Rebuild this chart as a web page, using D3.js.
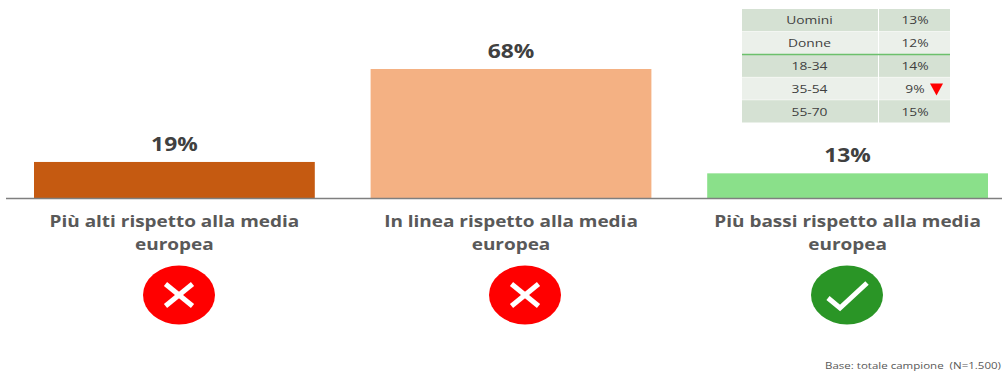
<!DOCTYPE html>
<html>
<head>
<meta charset="utf-8">
<script src="https://cdn.jsdelivr.net/npm/d3@7"></script>
<style>
html,body{margin:0;padding:0;background:#fff}
svg{display:block}
text{font-family:"Open Sans",sans-serif;white-space:pre}
</style>
</head>
<body>
<svg id="chart" width="1002" height="371"></svg>
<script>
// Survey answers
const categories = ["Più alti rispetto alla media", "In linea rispetto alla media", "Più bassi rispetto alla media"];
const secondLine = ["europea", "europea", "europea"];
const values = [19, 68, 13];
const barColors = ["#c55a11", "#f4b183", "#8ae08a"];
const verdicts = ["no", "no", "yes"];

// Breakdown table for the third answer
const groups = ["Uomini", "Donne", "18-34", "35-54", "55-70"];
const groupValues = [13, 12, 14, 9, 15];
const lowFlags = [false, false, false, true, false];

const footnote = "Base: totale campione  (N=1.500)";

const svg = d3.select("#chart");
const baseY = 198;
const stretch = 1.2; // lettering is set wider than the face's natural proportions

const x = d3.scaleBand().domain(categories).range([34, 988]).paddingInner(0.1658).paddingOuter(0);
const y = d3.scaleLinear().domain([0, 68]).range([baseY, 69]);

const wideText = (sel, px, py) => sel.attr("transform", `translate(${px},${py}) scale(${stretch},1)`);

// bars
svg.selectAll("rect.bar").data(values).join("rect").attr("class", "bar")
  .attr("x", (d, i) => x(categories[i]))
  .attr("y", d => y(d))
  .attr("width", x.bandwidth())
  .attr("height", d => baseY - y(d))
  .attr("fill", (d, i) => barColors[i]);

// baseline
svg.append("line").attr("x1", 6).attr("x2", 1002).attr("y1", baseY + 0.5).attr("y2", baseY + 0.5)
  .attr("stroke", "#7f7f7f").attr("stroke-width", 1.5);

// value labels
svg.selectAll("text.value").data(values).join("text").attr("class", "value")
  .text(d => d + "%")
  .attr("text-anchor", "middle").attr("font-size", 19).attr("font-weight", 700).attr("fill", "#404040")
  .each(function (d, i) {
    wideText(d3.select(this), x(categories[i]) + x.bandwidth() / 2, y(d) - 11);
  });

// category labels
categories.forEach((c, i) => {
  const cx = x(c) + x.bandwidth() / 2;
  [c, secondLine[i]].forEach((t, k) => {
    wideText(svg.append("text").text(t)
      .attr("text-anchor", "middle").attr("font-size", 15.8).attr("font-weight", 700).attr("fill", "#595959"),
      cx, 227 + k * 23);
  });
});

// verdict badges
const badgeX = [179, 525, 847];
verdicts.forEach((v, i) => {
  const g = svg.append("g").attr("transform", `translate(${badgeX[i]},295)`);
  g.append("ellipse").attr("rx", 36).attr("ry", 29.5).attr("fill", v === "yes" ? "#2a9526" : "#ff0000");
  const mark = v === "yes"
    ? [[[-19, 3], [-7, 13], [20, -12]]]
    : [[[-13.5, -11], [13.5, 11]], [[13.5, -11], [-13.5, 11]]];
  mark.forEach(m => g.append("path").attr("d", d3.line()(m))
    .attr("fill", "none").attr("stroke", "#fff").attr("stroke-width", 5));
});

// breakdown table
const rowY = d3.scaleBand().domain(groups).range([9, 123]);
const rowFill = ["#d5e1d3", "#ebf0ea", "#d5e1d3", "#ebf0ea", "#d5e1d3"];
const tableL = 742, tableM = 878, tableR = 950;
groups.forEach((g, i) => {
  const ry = rowY(g), rh = rowY.bandwidth();
  svg.append("rect").attr("x", tableL).attr("y", ry).attr("width", tableM - tableL).attr("height", rh).attr("fill", rowFill[i]);
  svg.append("rect").attr("x", tableM + 1).attr("y", ry).attr("width", tableR - tableM - 1).attr("height", rh).attr("fill", rowFill[i]);
  svg.append("line").attr("x1", tableL).attr("x2", tableR).attr("y1", ry + rh).attr("y2", ry + rh)
    .attr("stroke", "#fff").attr("stroke-width", 1);
  wideText(svg.append("text").text(g).attr("text-anchor", "middle").attr("font-size", 11.5).attr("fill", "#404040"),
    (tableL + tableM) / 2 - 0.5, ry + rh / 2 + 4);
  wideText(svg.append("text").text(groupValues[i] + "%").attr("text-anchor", "middle").attr("font-size", 11.5).attr("fill", "#404040"),
    915, ry + rh / 2 + 4);
  if (lowFlags[i]) {
    svg.append("path").attr("d", `M930,${ry + 6}H943L936.5,${ry + 18}Z`).attr("fill", "#ff0000");
  }
});
svg.append("line").attr("x1", tableL).attr("x2", tableR).attr("y1", rowY("18-34")).attr("y2", rowY("18-34"))
  .attr("stroke", "#6cc06c").attr("stroke-width", 1.5);

// footnote
wideText(svg.append("text").text(footnote).attr("text-anchor", "end").attr("font-size", 9.6).attr("fill", "#595959"), 1001, 369);
</script>
</body>
</html>
